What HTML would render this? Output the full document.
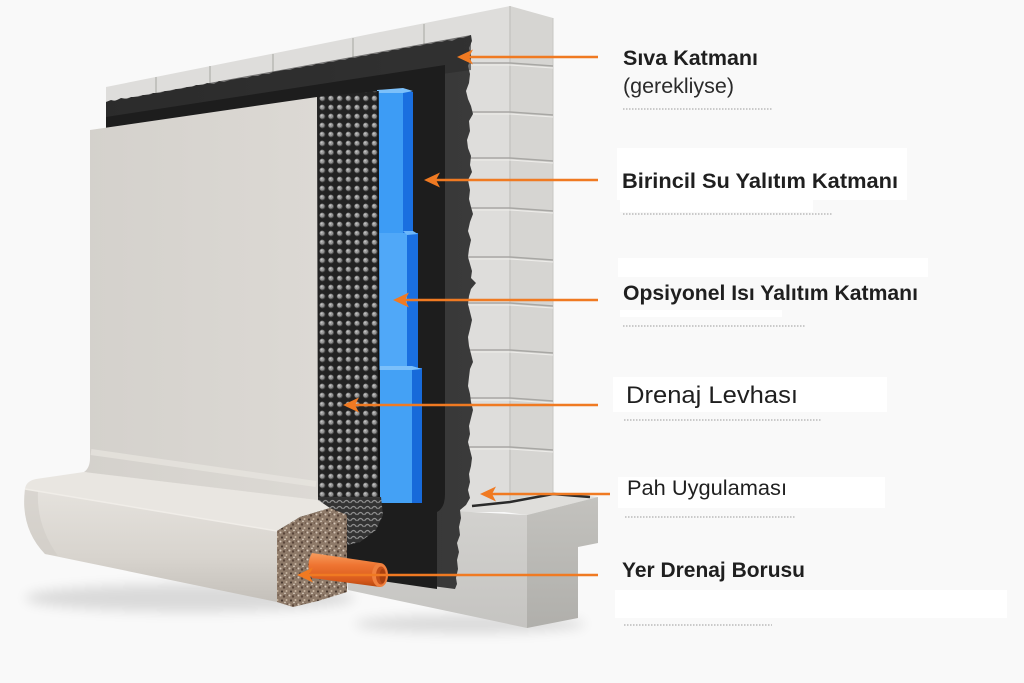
<!DOCTYPE html>
<html><head><meta charset="utf-8">
<style>
html,body{margin:0;padding:0;background:#f9f9f9;}
svg{display:block;}
text{font-family:"Liberation Sans",Arial,sans-serif;}
</style></head><body>
<svg width="1024" height="683" viewBox="0 0 1024 683" xmlns="http://www.w3.org/2000/svg">
<defs>
 <pattern id="dimp" patternUnits="userSpaceOnUse" x="318" y="94" width="8.7" height="9">
   <rect width="8.7" height="9" fill="#222"/>
   <circle cx="4.35" cy="4.5" r="2.9" fill="#555"/>
   <circle cx="4.0" cy="4.1" r="2.3" fill="#979797"/>
   <circle cx="3.6" cy="3.6" r="1" fill="#c2c2c2"/>
 </pattern>
 <pattern id="grav" patternUnits="userSpaceOnUse" width="9" height="9">
   <rect width="9" height="9" fill="#8e7a69"/>
   <circle cx="1.5" cy="1.5" r="1" fill="#d6c7b8"/>
   <circle cx="5" cy="2.5" r="1.2" fill="#5a463a"/>
   <circle cx="7.5" cy="6" r="1" fill="#c9b6a3"/>
   <circle cx="3" cy="6.5" r="1.1" fill="#4a3a30"/>
   <circle cx="6" cy="8.3" r=".8" fill="#e0d4c6"/>
   <circle cx="8.3" cy="1" r=".8" fill="#6b5648"/>
 </pattern>
 <pattern id="mesh" patternUnits="userSpaceOnUse" width="7" height="6">
   <rect width="7" height="6" fill="#333"/>
   <path d="M0.5,5 Q3.5,0 6.5,5" stroke="#8f8f8f" stroke-width="1.2" fill="none"/>
 </pattern>
 <linearGradient id="rollFront" x1="0" y1="0" x2="0" y2="1">
   <stop offset="0" stop-color="#e5e2dd"/>
   <stop offset="0.6" stop-color="#d8d4ce"/>
   <stop offset="1" stop-color="#c4c0ba"/>
 </linearGradient>
 <linearGradient id="fabric" x1="0" y1="0" x2="1" y2="0">
   <stop offset="0" stop-color="#d4d1cc"/>
   <stop offset="1" stop-color="#dcd9d4"/>
 </linearGradient>
 <linearGradient id="pipeG" x1="0" y1="0" x2="0" y2="1">
   <stop offset="0" stop-color="#f69c5e"/>
   <stop offset="0.35" stop-color="#ef7532"/>
   <stop offset="0.8" stop-color="#d85a1c"/>
   <stop offset="1" stop-color="#b5470f"/>
 </linearGradient>
 <linearGradient id="band" x1="0" y1="0" x2="1" y2="0">
   <stop offset="0" stop-color="#2c2c2c"/>
   <stop offset="1" stop-color="#3a3a3a"/>
 </linearGradient>
 <linearGradient id="footR" x1="0" y1="0" x2="0" y2="1">
   <stop offset="0" stop-color="#c3c2be"/>
   <stop offset="1" stop-color="#b0afab"/>
 </linearGradient>
 <linearGradient id="footF" x1="0" y1="0" x2="0" y2="1">
   <stop offset="0" stop-color="#d3d2cf"/>
   <stop offset="1" stop-color="#c5c4c1"/>
 </linearGradient>
 <filter id="blur" x="-20%" y="-100%" width="140%" height="300%"><feGaussianBlur stdDeviation="6"/></filter>
</defs>

<rect width="1024" height="683" fill="#f9f9f9"/>

<!-- shadows -->
<ellipse cx="190" cy="598" rx="165" ry="14" fill="#000" opacity="0.12" filter="url(#blur)"/>
<ellipse cx="470" cy="624" rx="115" ry="9" fill="#000" opacity="0.12" filter="url(#blur)"/>

<!-- wall front concrete -->
<polygon points="106,87 510,6 510,512 106,512" fill="#dedddb"/>
<!-- wall right face -->
<polygon points="510,6 553,18 553,494 510,502" fill="#d6d5d2"/>
<line x1="510" y1="6" x2="510" y2="502" stroke="#c6c5c2" stroke-width="1.5"/>
<line x1="553" y1="18" x2="553" y2="494" stroke="#c8c7c4" stroke-width="1"/>
<!-- course lines -->
<g fill="none">
 <g stroke="#a8a7a4" stroke-width="1.6">
  <path d="M462,63 L510,63 L553,66"/>
  <path d="M462,112 L510,112 L553,115"/>
  <path d="M462,158 L510,158 L553,161"/>
  <path d="M462,208 L510,208 L553,211"/>
  <path d="M462,257 L510,257 L553,260"/>
  <path d="M462,303 L510,303 L553,306"/>
  <path d="M462,350 L510,350 L553,353"/>
  <path d="M462,398 L510,398 L553,401"/>
  <path d="M462,447 L510,447 L553,450"/>
 </g>
 <g stroke="#eeedea" stroke-width="1">
  <path d="M462,65 L510,65 L553,68"/>
  <path d="M462,114 L510,114 L553,117"/>
  <path d="M462,160 L510,160 L553,163"/>
  <path d="M462,210 L510,210 L553,213"/>
  <path d="M462,259 L510,259 L553,262"/>
  <path d="M462,305 L510,305 L553,308"/>
  <path d="M462,352 L510,352 L553,355"/>
  <path d="M462,400 L510,400 L553,403"/>
  <path d="M462,449 L510,449 L553,452"/>
 </g>
</g>
<!-- seams on front top strip -->
<g stroke="#b9b8b5" stroke-width="1.5">
 <line x1="156" y1="77" x2="156" y2="96"/>
 <line x1="210" y1="66" x2="210" y2="86"/>
 <line x1="273" y1="54" x2="273" y2="75"/>
 <line x1="353" y1="38" x2="353" y2="60"/>
 <line x1="424" y1="24" x2="424" y2="48"/>
</g>

<!-- footing -->
<polygon points="340,505 527,515 527,628 348,590" fill="url(#footF)"/>
<polygon points="457,506 510,500 553,492 598,497 527,515" fill="#dfdedb"/>
<polygon points="527,515 598,497 598,543 578,547 578,618 527,628" fill="url(#footR)"/>
<polyline points="472,506 510,502 553,494 590,497" fill="none" stroke="#2a2a2a" stroke-width="2.5"/>

<!-- black membrane outer -->
<polygon fill="url(#band)" points="106,102 111,100 115,101 121,98 127,99 131,97 138,97 143,95 149,95 153,93 160,93 165,91 170,91 176,89 181,89 187,87 192,87 196,85 203,85 207,83 214,84 219,81 224,82 230,80 236,79 241,78 247,78 252,76 258,76 262,74 269,74 273,72 279,71 284,70 290,70 295,68 300,68 306,66 312,66 316,64 323,64 328,62 333,62 339,60 345,60 349,58 355,58 361,56 366,56 371,54 377,54 382,52 388,52 392,50 398,50 403,48 409,48 414,46 420,46 426,44 431,44 436,42 442,42 447,40 452,41 458,38 463,38 471,35 472,41 469,48 471,57 468,66 470,74 469,83 466,91 468,99 471,106 473,114 469,121 470,131 467,140 468,148 471,156 470,165 472,172 468,180 470,190 469,199 471,207 473,214 470,222 468,231 471,240 469,249 468,257 470,264 472,271 471,278 476,283 471,289 469,296 468,304 470,312 472,320 470,329 468,337 469,346 471,354 473,362 470,369 469,377 468,386 470,394 471,402 473,410 471,418 469,426 470,434 468,442 470,450 472,458 471,466 469,474 470,482 468,490 470,498 466,505 460,510 461,518 459,527 460,535 457,543 459,552 457,560 458,569 456,578 457,584 455,589 347,575 347,540 106,540"/>
<polygon points="106,102 471,35 471,70 106,120" fill="#2b2b2b" opacity="0.6"/>
<!-- inner darker -->
<path d="M106,117 L445,65 L445,494 Q445,508 437,512 L437,589 L347,576 L347,540 L106,540 Z" fill="#1d1d1d"/>

<!-- blue insulation -->
<polygon points="377,92 403,90 403,235 377,235" fill="#3d9cf5"/>
<polygon points="403,90 413,92 413,235 403,235" fill="#1a6fe0"/>
<polygon points="377,90 403,88 413,91 403,93 377,93" fill="#7cc0fa"/>
<polygon points="378,233 407,233 407,370 378,370" fill="#50a8f8"/>
<polygon points="407,233 418,233 418,370 407,370" fill="#1a6fe0"/>
<polygon points="403,231 413,231 418,234 407,235" fill="#6db7fa"/>
<polygon points="380,368 412,368 412,503 380,503" fill="#44a1f5"/>
<polygon points="412,368 422,368 422,503 412,503" fill="#176ada"/>
<polygon points="380,366 412,366 422,369 412,370 380,370" fill="#7cc0fa"/>

<!-- dimple sheet -->
<polygon points="317,97 378,91 379,500 317,500" fill="url(#dimp)"/>
<line x1="378" y1="91" x2="379" y2="500" stroke="#111" stroke-width="1.5"/>

<!-- crumpled mesh -->
<path d="M318,497 L381,497 L383,515 L376,530 L360,542 L343,546 L330,537 L322,518 Z" fill="url(#mesh)"/>

<!-- fabric -->
<path d="M90,130 L317,97 L318,499 Q320,508 312,510 L84,472 Q90,468 90,458 Z" fill="url(#fabric)"/>
<path d="M91,452 Q200,468 316,484" stroke="#e8e5e0" stroke-width="6" fill="none" opacity="0.7"/>
<line x1="84" y1="473" x2="318" y2="501" stroke="#b3afa9" stroke-width="1.5"/>

<!-- roll -->
<path d="M25,489 Q26,481 36,479 L84,472 L318,500 L330,508 L300,517 L277,531 Z" fill="#e9e6e1"/>
<path d="M25,489 L277,531 L277,602 L45,554 Q20,528 25,489 Z" fill="url(#rollFront)"/>
<path d="M25,489 Q20,528 45,554 L58,556 Q36,525 38,491 Z" fill="#cdc9c3" opacity="0.5"/>
<line x1="25" y1="489" x2="277" y2="531" stroke="#f0ede8" stroke-width="1.5"/>
<!-- gravel cut face -->
<path d="M277,531 L300,517 L330,508 L347,515 L347,592 L318,601 L293,607 L277,602 Z" fill="url(#grav)"/>

<!-- pipe -->
<path d="M312,553 L380,563 L380,587 L312,578 Q305,565 312,553 Z" fill="url(#pipeG)"/>
<ellipse cx="380" cy="575" rx="8" ry="12" fill="#f0803e"/>
<ellipse cx="381" cy="575.5" rx="5" ry="9" fill="#c4501a"/>
<ellipse cx="382.5" cy="576" rx="3" ry="7" fill="#a8400f"/>

<!-- arrows -->
<g fill="#f07a22" stroke="none">
 <path d="M457,57 L473,49.5 L469,57 L473,64.5 Z"/>
 <path d="M424,180 L440,172.5 L436,180 L440,187.5 Z"/>
 <path d="M393,300 L409,292.5 L405,300 L409,307.5 Z"/>
 <path d="M343,405 L359,397.5 L355,405 L359,412.5 Z"/>
 <path d="M480,494 L496,486.5 L492,494 L496,501.5 Z"/>
 <path d="M297,575 L313,567.5 L309,575 L313,582.5 Z"/>
</g>
<g stroke="#f07a22" stroke-width="2.6">
 <line x1="468" y1="57" x2="598" y2="57"/>
 <line x1="435" y1="180" x2="598" y2="180"/>
 <line x1="404" y1="300" x2="598" y2="300"/>
 <line x1="354" y1="405" x2="598" y2="405"/>
 <line x1="491" y1="494" x2="610" y2="494"/>
 <line x1="308" y1="575" x2="598" y2="575"/>
</g>

<!-- label boxes -->
<g fill="#ffffff">
 <rect x="617" y="148" width="290" height="52"/>
 <rect x="620" y="200" width="193" height="12"/>
 <rect x="618" y="258" width="310" height="19"/>
 <rect x="620" y="310" width="162" height="7"/>
 <rect x="613" y="377" width="274" height="35"/>
 <rect x="618" y="477" width="267" height="31"/>
 <rect x="615" y="590" width="392" height="28"/>
</g>

<!-- labels -->
<g fill="#1f1f1f">
 <text x="623" y="65" font-size="21.5" font-weight="bold" textLength="135" lengthAdjust="spacingAndGlyphs">Sıva Katmanı</text>
 <text x="623" y="93" font-size="21.5" textLength="111" lengthAdjust="spacingAndGlyphs" fill="#2a2a2a">(gerekliyse)</text>
 <text x="622" y="188" font-size="21.5" font-weight="bold" textLength="276" lengthAdjust="spacingAndGlyphs">Birincil Su Yalıtım Katmanı</text>
 <text x="623" y="300" font-size="21.5" font-weight="bold" textLength="295" lengthAdjust="spacingAndGlyphs">Opsiyonel Isı Yalıtım Katmanı</text>
 <text x="626" y="403" font-size="24.5" textLength="172" lengthAdjust="spacingAndGlyphs">Drenaj Levhası</text>
 <text x="627" y="495" font-size="21" textLength="160" lengthAdjust="spacingAndGlyphs">Pah Uygulaması</text>
 <text x="622" y="577" font-size="21" font-weight="bold" textLength="183" lengthAdjust="spacingAndGlyphs">Yer Drenaj Borusu</text>
</g>

<!-- dotted lines -->
<g stroke="#9a9a9a" stroke-width="1" stroke-dasharray="1.5 1.5">
 <line x1="623" y1="109" x2="773" y2="109"/>
 <line x1="623" y1="214" x2="833" y2="214"/>
 <line x1="623" y1="326" x2="806" y2="326"/>
 <line x1="624" y1="420" x2="822" y2="420"/>
 <line x1="625" y1="517" x2="796" y2="517"/>
 <line x1="624" y1="625" x2="772" y2="625"/>
</g>
</svg>
</body></html>
